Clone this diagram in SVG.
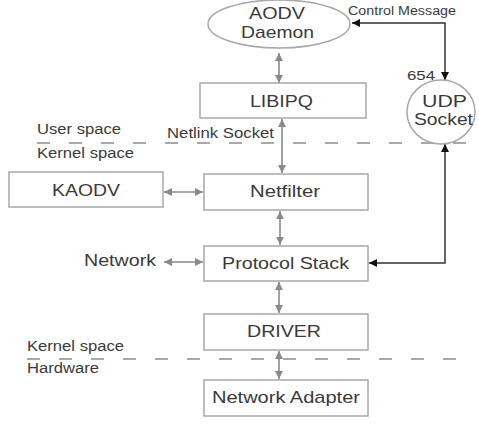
<svg xmlns="http://www.w3.org/2000/svg" width="479" height="426" viewBox="0 0 479 426">
<defs>
<marker id="ga" viewBox="0 0 10 10" refX="10" refY="5" markerWidth="10" markerHeight="8" markerUnits="userSpaceOnUse" orient="auto-start-reverse"><path d="M0,0 L10,5 L0,10 z" fill="#8a8a8a"/></marker>
<marker id="ba" viewBox="0 0 10 10" refX="10" refY="5" markerWidth="10" markerHeight="8" markerUnits="userSpaceOnUse" orient="auto-start-reverse"><path d="M0,0 L10,5 L0,10 z" fill="#111"/></marker>
</defs>
<style>
.box{fill:#fff;stroke:#a8a8a8;stroke-width:1.5}
.t{font-family:"Liberation Sans",Arial,sans-serif;font-size:17px;fill:#3a3a3a}
.s{font-family:"Liberation Sans",Arial,sans-serif;font-size:14px;fill:#3a3a3a}
.g{stroke:#8a8a8a;stroke-width:1.6;fill:none}
.b{stroke:#333;stroke-width:1.5;fill:none}
.d{stroke:#a8a8a8;stroke-width:2;stroke-dasharray:13 19;fill:none}
</style>
<rect width="479" height="426" fill="#fff"/>
<g id="dividers">
<line class="d" x1="37" y1="143" x2="479" y2="143"/>
<line class="d" x1="27" y1="359" x2="465" y2="359"/>
<text class="s" x="37" y="134" textLength="84" lengthAdjust="spacingAndGlyphs">User space</text>
<text class="s" x="37" y="158" textLength="97" lengthAdjust="spacingAndGlyphs">Kernel space</text>
<text class="s" x="27" y="351" textLength="97" lengthAdjust="spacingAndGlyphs">Kernel space</text>
<text class="s" x="27" y="373" textLength="72" lengthAdjust="spacingAndGlyphs">Hardware</text>
</g>
<g id="connectors">
<line class="g" x1="279" y1="53" x2="279" y2="83" marker-start="url(#ga)" marker-end="url(#ga)"/>
<line class="g" x1="282" y1="119" x2="282" y2="173" marker-start="url(#ga)" marker-end="url(#ga)"/>
<line class="g" x1="164" y1="192" x2="203" y2="192" marker-start="url(#ga)" marker-end="url(#ga)"/>
<line class="g" x1="280" y1="211" x2="280" y2="245" marker-start="url(#ga)" marker-end="url(#ga)"/>
<line class="g" x1="164" y1="262" x2="203" y2="262" marker-start="url(#ga)" marker-end="url(#ga)"/>
<line class="g" x1="279" y1="282" x2="279" y2="313" marker-start="url(#ga)" marker-end="url(#ga)"/>
<line class="g" x1="279" y1="351" x2="279" y2="379" marker-start="url(#ga)" marker-end="url(#ga)"/>
<path class="b" d="M352,23 H445 V80" marker-start="url(#ba)" marker-end="url(#ba)"/>
<path class="b" d="M445,144 V263 H369" marker-start="url(#ba)" marker-end="url(#ba)"/>
<text class="s" x="348" y="15" textLength="108" lengthAdjust="spacingAndGlyphs" style="font-size:12px">Control Message</text>
<text class="s" x="407" y="80" textLength="28" lengthAdjust="spacingAndGlyphs" style="font-size:13px">654</text>
<text class="s" x="167" y="138" textLength="107" lengthAdjust="spacingAndGlyphs">Netlink Socket</text>
<text class="t" x="84" y="266" textLength="72" lengthAdjust="spacingAndGlyphs">Network</text>
</g>
<g id="aodv-daemon">
<ellipse class="box" cx="279" cy="24" rx="71" ry="24"/>
<text class="t" x="249" y="19" textLength="56" lengthAdjust="spacingAndGlyphs">AODV</text>
<text class="t" x="241" y="38" textLength="73" lengthAdjust="spacingAndGlyphs">Daemon</text>
</g>
<g id="libipq">
<rect class="box" x="200" y="83" width="166" height="35"/>
<text class="t" x="250" y="107" textLength="63" lengthAdjust="spacingAndGlyphs">LIBIPQ</text>
</g>
<g id="udp-socket">
<ellipse class="box" cx="441" cy="112" rx="34" ry="32"/>
<text class="t" x="422" y="107" textLength="45" lengthAdjust="spacingAndGlyphs">UDP</text>
<text class="t" x="414" y="125" textLength="59" lengthAdjust="spacingAndGlyphs">Socket</text>
</g>
<g id="kaodv">
<rect class="box" x="9" y="172" width="154" height="35"/>
<text class="t" x="52" y="196" textLength="68" lengthAdjust="spacingAndGlyphs">KAODV</text>
</g>
<g id="netfilter">
<rect class="box" x="204" y="174" width="164" height="36"/>
<text class="t" x="250" y="197" textLength="70" lengthAdjust="spacingAndGlyphs">Netfilter</text>
</g>
<g id="protocol-stack">
<rect class="box" x="204" y="246" width="164" height="35"/>
<text class="t" x="222" y="269" textLength="127" lengthAdjust="spacingAndGlyphs">Protocol Stack</text>
</g>
<g id="driver">
<rect class="box" x="204" y="314" width="164" height="36"/>
<text class="t" x="247" y="337" textLength="74" lengthAdjust="spacingAndGlyphs">DRIVER</text>
</g>
<g id="network-adapter">
<rect class="box" x="204" y="380" width="164" height="36"/>
<text class="t" x="212" y="403" textLength="148" lengthAdjust="spacingAndGlyphs">Network Adapter</text>
</g>
</svg>
